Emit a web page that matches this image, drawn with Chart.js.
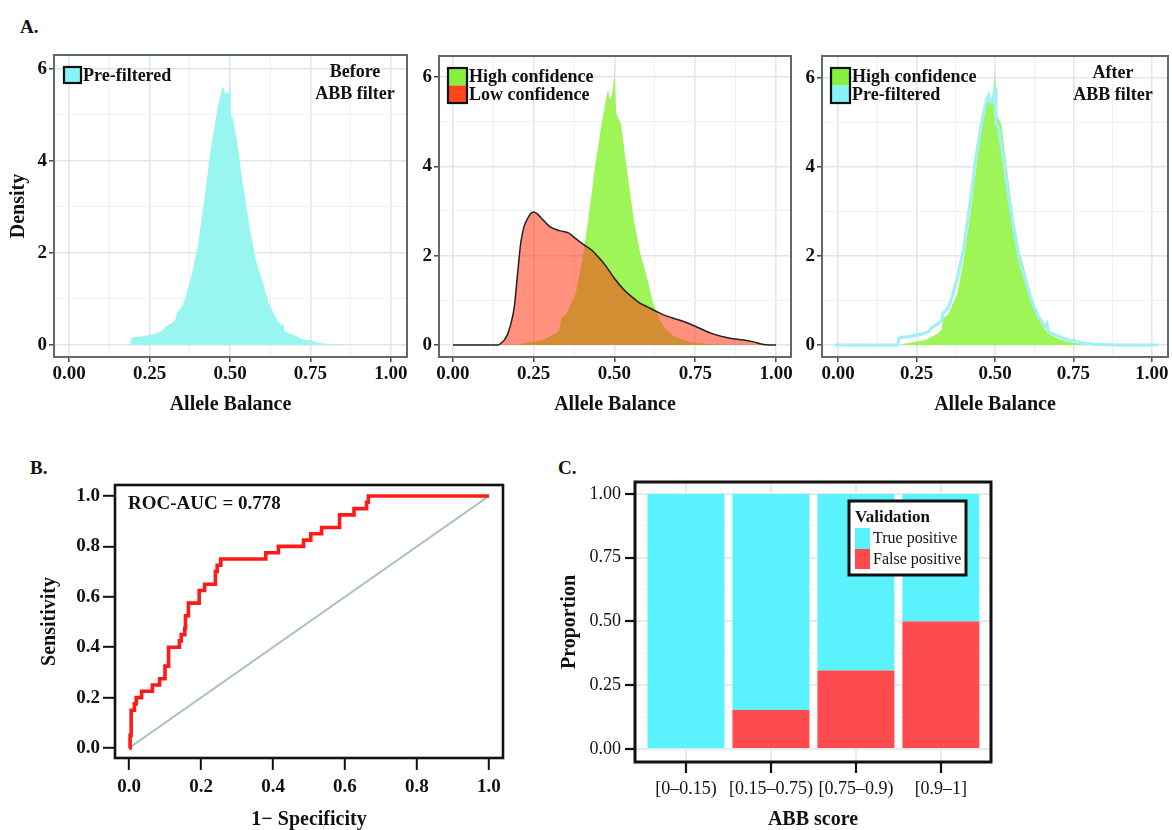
<!DOCTYPE html>
<html><head><meta charset="utf-8">
<script src="https://cdn.jsdelivr.net/npm/chart.js@4.4.0/dist/chart.umd.min.js"></script>
<style>
body{margin:0;background:#fff;width:1172px;height:830px;position:relative;overflow:hidden;font-family:'Liberation Serif','Times New Roman',serif;}
.pl{position:absolute;font-weight:bold;font-size:19px;line-height:19px;color:#111;}
.cv{position:absolute;}
.cv canvas{display:block;}
</style></head><body>
<div class="pl" style="left:20px;top:17px">A.</div>
<div class="pl" style="left:30px;top:458px">B.</div>
<div class="pl" style="left:558px;top:458px">C.</div>
<div class="cv" style="left:0px;top:40px"><canvas id="a1" width="410" height="380"></canvas></div>
<div class="cv" style="left:405px;top:40px"><canvas id="a2" width="390" height="380"></canvas></div>
<div class="cv" style="left:795px;top:40px"><canvas id="a3" width="377" height="380"></canvas></div>
<div class="cv" style="left:20px;top:470px"><canvas id="b" width="500" height="360"></canvas></div>
<div class="cv" style="left:545px;top:470px"><canvas id="c" width="627" height="360"></canvas></div>
<script>
// ---------------- DATA ----------------
const densTickVals = [0, 0.25, 0.5, 0.75, 1];
const densTickLabels = ['0.00', '0.25', '0.50', '0.75', '1.00'];
const densMinorX = [0.125, 0.375, 0.625, 0.875];
const densYVals = [0, 2, 4, 6];
const densYLabels = ['0', '2', '4', '6'];
const densMinorY = [1, 3, 5];

// Pre-filtered allele balance density
const preX = [-0.01, 0.19, 0.194, 0.20, 0.22, 0.25, 0.27, 0.29, 0.30, 0.32, 0.33, 0.335, 0.35, 0.36, 0.38, 0.40, 0.42, 0.44, 0.46, 0.475, 0.48, 0.485, 0.49, 0.495, 0.50, 0.503, 0.51, 0.52, 0.54, 0.56, 0.58, 0.60, 0.62, 0.64, 0.66, 0.665, 0.67, 0.68, 0.70, 0.72, 0.74, 0.75, 0.76, 0.78, 0.82, 0.86, 0.90, 1.02];
const preY = [0, 0, 0.16, 0.17, 0.18, 0.22, 0.25, 0.31, 0.40, 0.48, 0.55, 0.72, 0.82, 1.0, 1.5, 2.15, 3.15, 4.25, 5.1, 5.55, 5.6, 5.45, 5.5, 5.45, 5.8, 5.0, 4.9, 4.5, 3.5, 2.6, 1.85, 1.4, 0.92, 0.62, 0.42, 0.48, 0.3, 0.26, 0.21, 0.14, 0.1, 0.11, 0.07, 0.04, 0.015, 0.005, 0, 0];

// High confidence density
const hiX = [0.20, 0.21, 0.25, 0.28, 0.30, 0.32, 0.33, 0.335, 0.35, 0.38, 0.40, 0.42, 0.44, 0.46, 0.475, 0.48, 0.485, 0.49, 0.495, 0.50, 0.505, 0.51, 0.52, 0.54, 0.56, 0.58, 0.60, 0.62, 0.64, 0.66, 0.68, 0.70, 0.73, 0.76, 0.80, 0.85];
const hiY = [0, 0.03, 0.07, 0.12, 0.19, 0.27, 0.35, 0.6, 0.68, 1.15, 1.9, 2.87, 4.0, 4.96, 5.55, 5.72, 5.5, 5.55, 5.7, 6.15, 5.2, 5.1, 4.96, 3.84, 2.79, 2.05, 1.53, 0.93, 0.56, 0.34, 0.22, 0.15, 0.07, 0.04, 0.015, 0];

// Low confidence density
const loX = [0.00, 0.14, 0.15, 0.16, 0.17, 0.18, 0.19, 0.20, 0.21, 0.22, 0.23, 0.24, 0.25, 0.26, 0.28, 0.30, 0.33, 0.36, 0.38, 0.40, 0.43, 0.45, 0.47, 0.50, 0.53, 0.55, 0.58, 0.60, 0.63, 0.65, 0.70, 0.73, 0.75, 0.80, 0.85, 0.90, 0.93, 0.95, 0.97, 1.00];
const loY = [0, 0, 0.05, 0.12, 0.26, 0.5, 0.86, 1.6, 2.3, 2.65, 2.82, 2.94, 2.98, 2.94, 2.79, 2.65, 2.56, 2.5, 2.38, 2.27, 2.12, 1.97, 1.8, 1.49, 1.23, 1.1, 0.93, 0.86, 0.75, 0.68, 0.56, 0.48, 0.42, 0.26, 0.16, 0.11, 0.07, 0.03, 0.005, 0];

// ROC curve
const rocX = [0, 0.003, 0.006, 0.015, 0.02, 0.035, 0.065, 0.085, 0.10, 0.11, 0.14, 0.145, 0.155, 0.157, 0.165, 0.195, 0.21, 0.24, 0.245, 0.255, 0.38, 0.415, 0.485, 0.505, 0.535, 0.585, 0.625, 0.66, 0.665, 1.0];
const rocY = [0, 0.05, 0.15, 0.175, 0.2, 0.225, 0.25, 0.275, 0.325, 0.4, 0.425, 0.45, 0.475, 0.525, 0.575, 0.625, 0.65, 0.7, 0.725, 0.75, 0.775, 0.8, 0.825, 0.85, 0.875, 0.925, 0.95, 0.975, 1.0, 1.0];
const diagX = [0, 1];
const diagY = [0, 1];
const rocTickVals = [0, 0.2, 0.4, 0.6, 0.8, 1.0];
const rocTickLabels = ['0.0', '0.2', '0.4', '0.6', '0.8', '1.0'];
const rocAucText = 'ROC-AUC = 0.778';

// ABB score validation
const abbCategories = ['[0\u20130.15)', '[0.15\u20130.75)', '[0.75\u20130.9)', '[0.9\u20131]'];
const abbPositions = [1, 2, 3, 4];
const truePositive = [1.0, 0.847, 0.692, 0.5];
const falsePositive = [0.0, 0.153, 0.308, 0.5];
const propTickVals = [0, 0.25, 0.5, 0.75, 1];
const propTickLabels = ['0.00', '0.25', '0.50', '0.75', '1.00'];
const propMinor = [0.125, 0.375, 0.625, 0.875];

// ---------------- HELPERS ----------------
const SERIF = "'Liberation Serif','Times New Roman',Times,serif";
const pts = (xs, ys) => xs.map((x, i) => ({x: x, y: ys[i]}));
const near = (a, b) => Math.abs(a - b) < 1e-9;

function axis(o) {
  const all = o.major.concat(o.minor || []).sort((a, b) => a - b);
  const isMajor = v => o.major.some(m => near(m, v));
  return {
    type: 'linear', min: o.min, max: o.max, offset: false,
    afterBuildTicks: s => { s.ticks = all.map(v => ({value: v})); },
    afterFit: s => {
      if (o.horizontal) { s.height = o.size; s.paddingLeft = 0; s.paddingRight = 0; }
      else { s.width = o.size; s.paddingTop = 0; s.paddingBottom = 0; }
    },
    ticks: {
      autoSkip: false, maxRotation: 0, minRotation: 0, padding: o.pad, color: '#111', font: o.font,
      callback: function (v) { const i = o.major.findIndex(m => near(m, v)); return i >= 0 ? o.labels[i] : ''; }
    },
    grid: {
      display: true, offset: false, drawOnChartArea: o.grid !== false, drawTicks: true,
      tickLength: o.tl, tickWidth: o.tw || 1.5,
      tickColor: c => (c.tick && isMajor(c.tick.value)) ? o.tickColor : 'rgba(0,0,0,0)',
      color: c => (c.tick && isMajor(c.tick.value)) ? (o.gMajor || '#e1e7e7') : (o.gMinor || '#eff2f2'),
      lineWidth: c => (c.tick && isMajor(c.tick.value)) ? (o.gMW || 1.6) : 1
    },
    border: {display: false},
    title: o.title ? {display: true, text: o.title, font: o.titleFont, color: '#111', padding: o.titlePad} : {display: false}
  };
}

const boxPlugin = {
  id: 'frame',
  afterDatasetsDraw(chart, args, opts) {
    const {ctx, chartArea: a} = chart;
    ctx.save();
    ctx.strokeStyle = opts.color || '#000';
    ctx.lineWidth = opts.width || 2;
    ctx.strokeRect(a.left, a.top, a.right - a.left, a.bottom - a.top);
    ctx.restore();
  }
};
Chart.register(boxPlugin);

const tickFontB = {family: SERIF, size: 19, weight: 'bold', lineHeight: 1};
const titleFontB = {family: SERIF, size: 20, weight: 'bold', lineHeight: 1};
const tickFontR = {family: SERIF, size: 18, weight: 'normal', lineHeight: 1};

function swatchLegend(ctx, x, y, w, h, items, font) {
  ctx.save();
  items.forEach((it, i) => { ctx.fillStyle = it.color; ctx.fillRect(x, y + i * h, w, h); });
  ctx.lineWidth = 2.2; ctx.strokeStyle = '#111';
  ctx.strokeRect(x, y, w, h * items.length);
  ctx.fillStyle = '#111'; ctx.font = font; ctx.textBaseline = 'middle'; ctx.textAlign = 'left';
  items.forEach((it, i) => ctx.fillText(it.text, x + w + 2, y + i * h + h / 2 + 1));
  ctx.restore();
}
function centerText(ctx, lines, cx, y0, dy, font) {
  ctx.save();
  ctx.fillStyle = '#111'; ctx.font = font; ctx.textAlign = 'center'; ctx.textBaseline = 'middle';
  lines.forEach((l, i) => ctx.fillText(l, cx, y0 + i * dy));
  ctx.restore();
}

function densityChart(id, cfg) {
  const scales = {
    x: axis({horizontal: true, min: cfg.xmin, max: cfg.xmax, major: densTickVals, labels: densTickLabels, minor: densMinorX,
      size: 63, tl: 5, pad: 3, font: tickFontB, tickColor: '#444', title: 'Allele Balance', titleFont: titleFontB, titlePad: {top: 0, bottom: 5}}),
    y: axis({horizontal: false, min: cfg.ymin, max: cfg.ymax, major: densYVals, labels: densYLabels, minor: densMinorY,
      size: cfg.yW, tl: 5, pad: 2, font: tickFontB, tickColor: '#444',
      title: cfg.ytitle, titleFont: titleFontB, titlePad: {top: 9, bottom: 0}})
  };
  return new Chart(document.getElementById(id), {
    type: 'line',
    data: {datasets: cfg.datasets},
    options: {
      responsive: false, animation: false, devicePixelRatio: 1,
      layout: {padding: cfg.padding},
      scales: scales,
      elements: {point: {radius: 0, hoverRadius: 0}, line: {tension: 0}},
      plugins: {legend: {display: false}, tooltip: {enabled: false}, frame: {color: '#5d6b6b', width: 2}}
    },
    plugins: [{id: 'notes_' + id, afterDraw: cfg.notes}]
  });
}

const CYAN_FILL = 'rgb(152,245,240)';
const GREEN_FILL = 'rgb(158,245,88)';
const RED_FILL = 'rgba(255,55,20,0.55)';
const CYAN_KEY = '#86f4f4';
const GREEN_KEY = '#86f03c';
const RED_KEY = '#ff4420';
const legendFont = 'bold 18px ' + SERIF;
const noteFont = 'bold 18px ' + SERIF;

// ---------------- A1 ----------------
densityChart('a1', {
  xmin: -0.0466, xmax: 1.0497, ymin: -0.26, ymax: 6.30, yW: 54, ytitle: 'Density',
  padding: {left: 0, top: 15, right: 3, bottom: 0},
  datasets: [
    {data: pts(preX, preY), fill: 'origin', backgroundColor: CYAN_FILL, borderColor: 'rgba(0,0,0,0)', borderWidth: 0}
  ],
  notes: chart => {
    const a = chart.chartArea, ctx = chart.ctx;
    swatchLegend(ctx, a.left + 10, a.top + 12, 17, 16, [{color: CYAN_KEY, text: 'Pre-filtered'}], legendFont);
    centerText(ctx, ['Before', 'ABB filter'], a.right - 52, a.top + 17, 22, noteFont);
  }
});

// ---------------- A2 ----------------
densityChart('a2', {
  xmin: -0.0433, xmax: 1.0464, ymin: -0.269, ymax: 6.47, yW: 34, ytitle: null,
  padding: {left: 0, top: 16, right: 4, bottom: 0},
  datasets: [
    {data: pts(loX, loY), fill: 'origin', backgroundColor: RED_FILL, borderColor: '#222', borderWidth: 1.5, cubicInterpolationMode: 'monotone'},
    {data: pts(hiX, hiY), fill: 'origin', backgroundColor: GREEN_FILL, borderColor: 'rgba(0,0,0,0)', borderWidth: 0}
  ],
  notes: chart => {
    const a = chart.chartArea, ctx = chart.ctx;
    swatchLegend(ctx, a.left + 9, a.top + 12, 19, 17.5, [{color: GREEN_KEY, text: 'High confidence'}, {color: RED_KEY, text: 'Low confidence'}], legendFont);
  }
});

// ---------------- A3 ----------------
densityChart('a3', {
  xmin: -0.051, xmax: 1.051, ymin: -0.27, ymax: 6.49, yW: 27, ytitle: null,
  padding: {left: 0, top: 16, right: 4, bottom: 0},
  datasets: [
    {data: pts(preX, preY), fill: false, borderColor: 'rgb(160,240,245)', borderWidth: 3.2},
    {data: pts(hiX, hiY), fill: 'origin', backgroundColor: GREEN_FILL, borderColor: 'rgba(0,0,0,0)', borderWidth: 0}
  ],
  notes: chart => {
    const a = chart.chartArea, ctx = chart.ctx;
    swatchLegend(ctx, a.left + 9, a.top + 12, 19, 17.5, [{color: GREEN_KEY, text: 'High confidence'}, {color: CYAN_KEY, text: 'Pre-filtered'}], legendFont);
    centerText(ctx, ['After', 'ABB filter'], a.right - 55, a.top + 17, 22, noteFont);
  }
});

// ---------------- B: ROC ----------------
new Chart(document.getElementById('b'), {
  type: 'line',
  data: {datasets: [
    {data: pts(rocX, rocY), stepped: 'before', borderColor: '#ff1a1a', borderWidth: 3.6, fill: false},
    {data: pts(diagX, diagY), borderColor: '#a9bfba', borderWidth: 2, fill: false}
  ]},
  options: {
    responsive: false, animation: false, devicePixelRatio: 1,
    layout: {padding: {left: 0, top: 15, right: 17, bottom: 0}},
    elements: {point: {radius: 0, hoverRadius: 0}, line: {tension: 0}},
    scales: {
      x: axis({horizontal: true, min: -0.0389, max: 1.0389, major: rocTickVals, labels: rocTickLabels, minor: [],
        size: 72, tl: 12, pad: 8, font: tickFontB, tickColor: '#111', tw: 2, grid: false,
        title: '1\u2212 Specificity', titleFont: titleFontB, titlePad: {top: 0, bottom: 0}}),
      y: axis({horizontal: false, min: -0.0397, max: 1.0437, major: rocTickVals, labels: rocTickLabels, minor: [],
        size: 95, tl: 12, pad: 3, font: tickFontB, tickColor: '#111', tw: 2, grid: false,
        title: 'Sensitivity', titleFont: titleFontB, titlePad: {top: 20, bottom: 0}})
    },
    plugins: {legend: {display: false}, tooltip: {enabled: false}, frame: {color: '#111', width: 2.6}}
  },
  plugins: [{id: 'rocNote', afterDraw(chart) {
    const a = chart.chartArea, ctx = chart.ctx;
    ctx.save(); ctx.fillStyle = '#111'; ctx.font = 'bold 19px ' + SERIF; ctx.textBaseline = 'middle'; ctx.textAlign = 'left';
    ctx.fillText(rocAucText, a.left + 13, a.top + 19);
    ctx.restore();
  }}]
});

// ---------------- C: stacked bars ----------------
new Chart(document.getElementById('c'), {
  type: 'bar',
  data: {datasets: [
    {label: 'False positive', data: pts(abbPositions, falsePositive), backgroundColor: '#ff4a50', borderWidth: 0},
    {label: 'True positive', data: pts(abbPositions, truePositive), backgroundColor: '#5af2fc', borderWidth: 0}
  ]},
  options: {
    responsive: false, animation: false, devicePixelRatio: 1,
    layout: {padding: {left: 0, top: 12, right: 181, bottom: 0}},
    datasets: {bar: {barPercentage: 0.906, categoryPercentage: 1.0}},
    scales: {
      x: Object.assign(axis({horizontal: true, min: 0.4, max: 4.59, major: abbPositions, labels: abbCategories, minor: [],
        size: 68, tl: 11, pad: 7, font: tickFontR, tickColor: '#111', tw: 2.2, gMajor: '#e6ebeb', gMW: 2,
        title: 'ABB score', titleFont: titleFontB, titlePad: {top: 0, bottom: 0}}), {stacked: true}),
      y: Object.assign(axis({horizontal: false, min: -0.051, max: 1.047, major: propTickVals, labels: propTickLabels, minor: propMinor,
        size: 90, tl: 10, pad: 4, font: tickFontR, tickColor: '#111', tw: 2.2, gMajor: '#e6ebeb', gMinor: '#f1f4f4', gMW: 2,
        title: 'Proportion', titleFont: titleFontB, titlePad: {top: 15, bottom: 0}}), {stacked: true})
    },
    plugins: {legend: {display: false}, tooltip: {enabled: false}, frame: {color: '#111', width: 3}}
  },
  plugins: [{id: 'cLegend', afterDraw(chart) {
    const a = chart.chartArea, ctx = chart.ctx;
    const bx = a.left + 214, by = a.top + 19, bw = 117, bh = 74;
    ctx.save();
    ctx.fillStyle = '#fff'; ctx.fillRect(bx, by, bw, bh);
    ctx.lineWidth = 3; ctx.strokeStyle = '#111'; ctx.strokeRect(bx, by, bw, bh);
    ctx.fillStyle = '#111'; ctx.font = 'bold 17px ' + SERIF; ctx.textBaseline = 'middle'; ctx.textAlign = 'left';
    ctx.fillText('Validation', bx + 6, by + 17);
    ctx.fillStyle = '#5af2fc'; ctx.fillRect(bx + 6, by + 27, 15, 21);
    ctx.fillStyle = '#ff4a50'; ctx.fillRect(bx + 6, by + 48, 15, 20);
    ctx.fillStyle = '#111'; ctx.font = '16px ' + SERIF;
    ctx.fillText('True positive', bx + 24, by + 38);
    ctx.fillText('False positive', bx + 24, by + 59);
    ctx.restore();
  }}]
});
</script>
</body></html>
